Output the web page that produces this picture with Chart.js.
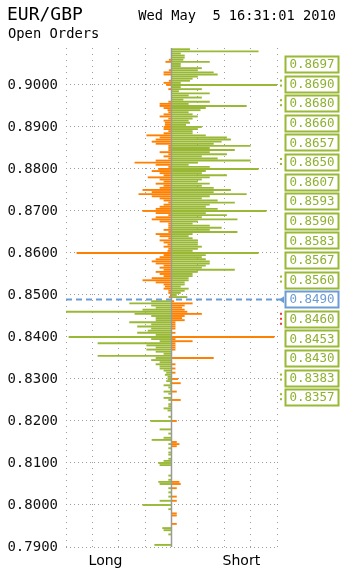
<!DOCTYPE html>
<html><head><meta charset="utf-8">
<script src="https://cdn.jsdelivr.net/npm/chart.js@4/dist/chart.umd.min.js"></script>
<style>html,body{margin:0;padding:0;background:#fff;overflow:hidden}#wrap{position:relative;width:344px;height:571px}</style>
</head><body><div id="wrap"><canvas id="c" width="344" height="571"></canvas></div>
<script>
const pair = 'EUR/GBP';
const stamp = 'Wed May  5 16:31:01 2010';
const subtitle = 'Open Orders';
const sideLabels = ['Long', 'Short'];
const sideLabelAt = [-2.5, 2.65];
const currentPrice = 0.8490;
const topLevel = 0.9085;
const levelStep = 0.0005;

// Long (buy) open orders per 0.0005 bucket, from 0.9085 down to 0.7900
const longVals = [
0,0,0,0,0,0.1,0.23,0,0,0,
0.1,0.3,0.3,0,0,0.1,0.3,0.2,0,0.12,
0,0,0,0,0,0.12,0.45,0.45,0.3,0.15,
0.12,0.3,0.45,0.12,0.3,0.25,0.25,0.3,0.3,0.12,
0.3,0.95,0.45,0.6,0.75,0.6,0.12,0.12,0.12,0.45,
0.12,0.3,0.12,0.6,1.4,0.6,0.12,0.5,0.75,0.45,
0.3,0.9,0.45,0.3,0.6,0.3,0.45,1.1,0.75,1.25,
0.75,0.45,0.3,0.12,0.3,0.45,0.6,1.1,0.6,0.12,
0.6,0.75,0.45,0.12,0.12,0.12,0.3,0.12,0.6,0.45,
0.12,0.45,0.3,0.15,0.3,0.12,0.15,3.6,0.3,0.45,
0.6,0.75,0.6,0.3,0.45,0.3,0.6,0.45,0.3,0.75,
1.1,0.6,0.3,0.25,0.3,0.12,0.12,0.06,0.1,0,
0.77,1.6,0.77,0.6,1.1,4.0,1.4,0.77,0.6,0.6,
1.6,0.77,1.3,0.77,0.9,1.3,0.6,3.9,0.77,0.45,
2.8,0.95,0.6,0.95,0.6,0.3,2.8,0.6,0.77,0.45,
0.6,0.45,0.45,0.3,0.2,0.25,0.15,0.15,0.2,0.06,
0.3,0.12,0.06,0.3,0.12,0,0.3,0.12,0,0.12,
0.12,0.3,0.15,0,0,0.12,0,0.8,0,0,
0,0.45,0,0.12,0,0.3,0.75,0,0.12,0,
0.12,0,0.12,0.12,0,0.12,0.3,0.5,0.45,0,
0,0,0,0.12,0,0.12,0.5,0.45,0,0.12,
0,0.12,0,0.12,0,0.45,0,1.1,0,0.12,
0,0,0,0,0,0,0,0,0.35,0.3,
0,0.12,0,0,0,0,0.65,0
];
// Short (sell) open orders per bucket
const shortVals = [
0.7,3.3,0.35,0.5,0.5,0.45,1.45,0.35,0.35,1.15,
1.0,1.6,1.75,1.0,0.8,0.7,0.35,4.2,0.35,1.15,
0.28,1.45,0.65,1.15,0.45,1.45,0.65,2.85,1.3,1.1,
0.65,0.8,1.0,0.8,0.65,0.7,0.55,1.15,1.0,0.8,
0.8,1.3,2.1,2.25,1.9,1.6,3.0,1.45,2.4,1.45,
2.1,1.15,1.75,3.0,1.0,0.65,1.45,3.3,1.3,1.15,
2.1,1.45,1.15,1.0,1.45,1.15,1.6,2.25,1.6,2.85,
1.45,1.15,1.75,2.4,1.45,1.3,1.75,3.6,1.3,2.1,
1.15,2.5,1.0,0.8,1.45,1.9,1.45,2.5,0.8,0.65,
0.8,1.0,1.0,1.0,1.15,1.0,0.8,3.3,1.3,1.15,
1.3,1.45,1.45,1.3,1.15,2.4,1.0,0.8,0.8,0.65,
0.65,0.5,0.5,0.35,0.65,0.5,0.35,0.2,0.6,0,
0.1,0.8,0.5,0.4,0.5,0.6,1.15,0.5,0.4,0.5,
0.15,0.15,0.15,0.15,0,0.15,0,3.9,0.15,0.8,
0.15,0.15,0.15,0.15,0,0,0,1.6,0,0,
0.15,0,0.15,0,0.15,0,0,0.25,0,0.35,
0,0,0,0.2,0,0,0,0.35,0,0,
0,0,0,0,0,0,0,0.2,0,0,
0,0,0,0,0,0,0,0.2,0.3,0.2,
0,0,0,0,0,0,0,0,0,0,
0,0,0,0,0,0,0.3,0.35,0,0.2,
0,0,0,0.2,0,0.2,0,0,0,0,
0,0.2,0.2,0,0,0,0.2,0,0,0,
0,0,0,0,0,0,0,0
];
const yTicks = [0.79,0.80,0.81,0.82,0.83,0.84,0.85,0.86,0.87,0.88,0.89,0.90];
const xTicks = [-4,-3,-2,-1,0,1,2,3,4];
const keyPrices = ['0.8697','0.8690','0.8680','0.8660','0.8657','0.8650','0.8607','0.8593','0.8590','0.8583','0.8567','0.8560','0.8490','0.8460','0.8453','0.8430','0.8383','0.8357'];
const keyMarks  = ['',      'g',     'g',     '',      '',      'g',     '',      '',      '',      '',      '',      'g',     'now',   'r',     '',      '',      'g',     'g'];

const ORANGE = '#ff8000', GREEN = '#98b836', LABEL_GREEN = '#8fb132', BLUE = '#6d9bd3';
const levels = longVals.map((_, i) => +(topLevel - i * levelStep).toFixed(4));

const overlay = {
  id: 'overlay',
  afterDatasetsDraw(chart) {
    const {ctx, chartArea: a, scales: {x, y}} = chart;
    ctx.save();
    const x0 = x.getPixelForValue(0);
    ctx.strokeStyle = '#9a9a9a'; ctx.lineWidth = 1.5;
    ctx.beginPath(); ctx.moveTo(x0, a.top); ctx.lineTo(x0, a.bottom); ctx.stroke();
    const py = Math.round(y.getPixelForValue(currentPrice)) + 0.5;
    ctx.strokeStyle = BLUE; ctx.lineWidth = 2; ctx.setLineDash([6, 4]);
    ctx.beginPath(); ctx.moveTo(a.left, py); ctx.lineTo(a.right + 5, py); ctx.stroke();
    ctx.setLineDash([]);
    ctx.restore();
  },
  afterDraw(chart) {
    const {ctx, chartArea: a, scales: {x, y}} = chart;
    ctx.save();
    ctx.fillStyle = '#000'; ctx.textBaseline = 'alphabetic';
    ctx.font = '18px "DejaVu Sans Mono"'; ctx.textAlign = 'left';
    ctx.fillText(pair, 7, 20);
    ctx.font = '13.7px "DejaVu Sans Mono"'; ctx.textAlign = 'right';
    ctx.fillText(stamp, 336, 20);
    ctx.font = '13.8px "DejaVu Sans Mono"'; ctx.textAlign = 'left';
    ctx.fillText(subtitle, 8, 38);
    ctx.font = '14px "DejaVu Sans"'; ctx.textAlign = 'center';
    sideLabels.forEach((t, i) => ctx.fillText(t, x.getPixelForValue(sideLabelAt[i]), 565));
    const pitch = 19.6, bw = 54, bh = 16;
    const iNow = keyPrices.indexOf(currentPrice.toFixed(4));
    const cyNow = y.getPixelForValue(currentPrice);
    const bx = a.right + 8;
    ctx.font = '12.5px "DejaVu Sans Mono"'; ctx.textAlign = 'center'; ctx.textBaseline = 'middle';
    keyPrices.forEach((t, i) => {
      const cy = cyNow + (i - iNow) * pitch;
      const col = keyMarks[i] === 'now' ? BLUE : GREEN;
      ctx.fillStyle = '#fff'; ctx.fillRect(bx, cy - bh / 2, bw, bh);
      ctx.strokeStyle = col; ctx.lineWidth = 2;
      ctx.strokeRect(Math.round(bx) + 0.5, Math.round(cy - bh / 2) + 0.5, bw - 1, bh);
      ctx.fillStyle = keyMarks[i] === 'now' ? BLUE : LABEL_GREEN;
      ctx.fillText(t, bx + bw / 2, cy + 1);
      const mx = a.right + 3;
      if (keyMarks[i] === 'g') {
        ctx.fillStyle = GREEN;
        ctx.fillRect(mx, cy - 4, 2, 2); ctx.fillRect(mx, cy + 1, 2, 2);
      } else if (keyMarks[i] === 'r') {
        ctx.fillStyle = '#ff3030';
        ctx.fillRect(mx, cy - 6, 2, 2); ctx.fillRect(mx, cy - 1, 2, 2); ctx.fillRect(mx, cy + 4, 2, 2);
      } else if (keyMarks[i] === 'now') {
        ctx.fillStyle = BLUE;
        ctx.beginPath(); ctx.moveTo(mx - 1, cy + 0.5); ctx.lineTo(mx + 4, cy - 3); ctx.lineTo(mx + 4, cy + 4); ctx.closePath(); ctx.fill();
      }
    });
    ctx.restore();
  }
};

new Chart(document.getElementById('c'), {
  type: 'bar',
  data: {
    datasets: [
      { label: 'Long', data: levels.map((p, i) => ({y: p, x: -longVals[i]})),
        backgroundColor: levels.map(p => p > currentPrice ? ORANGE : GREEN) },
      { label: 'Short', data: levels.map((p, i) => ({y: p, x: shortVals[i]})),
        backgroundColor: levels.map(p => p > currentPrice ? GREEN : ORANGE) }
    ]
  },
  options: {
    responsive: false, animation: false, indexAxis: 'y',
    layout: {padding: {left: 8, right: 67, top: 48, bottom: 24}},
    plugins: {legend: {display: false}, tooltip: {enabled: false}},
    datasets: {bar: {grouped: false, categoryPercentage: 1, barPercentage: 0.9, borderWidth: 0}},
    scales: {
      x: {type: 'linear', min: -4, max: 4, offset: false,
        afterBuildTicks: s => { s.ticks = xTicks.map(v => ({value: v})); },
        afterFit: s => { s.height = 0; },
        ticks: {display: false},
        grid: {color: '#9c9c9c', lineWidth: 1, drawTicks: false, offset: false},
        border: {display: false, dash: [1, 5]}},
      y: {type: 'linear', min: 0.79, max: 0.9088, offset: false,
        afterBuildTicks: s => { s.ticks = yTicks.map(v => ({value: v})); },
        afterFit: s => { s.width = 58; },
        ticks: {color: '#111', padding: 8, font: {family: 'DejaVu Sans Mono', size: 14},
          callback: v => Number(v).toFixed(4)},
        grid: {color: '#9c9c9c', lineWidth: 1, drawTicks: false, offset: false},
        border: {display: false, dash: [1, 3]}}
    }
  },
  plugins: [overlay]
});
</script></body></html>
